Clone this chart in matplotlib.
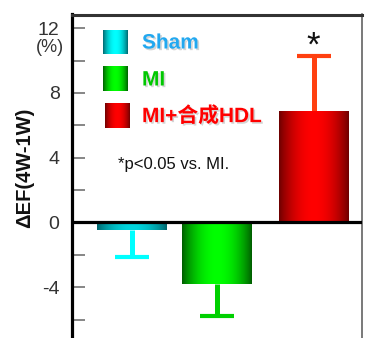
import numpy as np
import matplotlib
matplotlib.use("Agg")
import matplotlib.pyplot as plt
import matplotlib.patheffects as pe
from matplotlib.colors import to_rgb

plt.rcParams['font.family'] = ['Liberation Sans', 'Noto Sans CJK SC', 'DejaVu Sans']

# ---- data ----
groups = ['Sham', 'MI', 'MI+合成HDL']
values = [-0.46, -3.8, 6.88]
errors = [1.7, 2.0, 3.37]
yticks_major = [-4, 0, 4, 8, 12]
yticks_minor = [-6, -2, 2, 6, 10]
ylabel = 'ΔEF(4W-1W)'
note = '*p<0.05 vs. MI.'

# ---- style ----
positions = [1.0, 2.0, 3.14]
bar_width = 0.82
cap_half = 0.2
edge_cols = ['#00636b', '#005a00', '#6a0000']
center_cols = ['#00d4dc', '#00ff00', '#ff0000']
err_cols = ['#00ffff', '#00d000', '#ff4010']
text_cols = ['#22a8f0', '#00c800', '#ff0000']

W, H = 366, 338
fig = plt.figure(figsize=(W / 100, H / 100), dpi=100)
ax_l, ax_r, ax_t, ax_b = 72, 362, 14.5, 338
ax = fig.add_axes([ax_l / W, 1 - ax_b / H, (ax_r - ax_l) / W, (ax_b - ax_t) / H])

ylim = (-7.13, 12.84)
xlim = (0.294, 3.706)


def grad_img(c_edge, c_center, n=200):
    x = np.linspace(0, 1, n)
    t = np.sin(np.pi * x) ** 0.8
    e = np.array(to_rgb(c_edge))
    c = np.array(to_rgb(c_center))
    return (e[None, :] * (1 - t[:, None]) + c[None, :] * t[:, None])[None, :, :]


for i, (p, v, e) in enumerate(zip(positions, values, errors)):
    end = v - e if v < 0 else v + e
    ax.vlines(p, v, end, color=err_cols[i], lw=3.6, zorder=2)
    ax.hlines(end, p - cap_half, p + cap_half, color=err_cols[i], lw=3.0, zorder=2)
    bars = ax.bar([p], [v], width=bar_width, color='none', edgecolor='none', zorder=3)
    rect = bars[0]
    x0 = p - bar_width / 2
    im = ax.imshow(grad_img(edge_cols[i], center_cols[i]), aspect='auto',
                   extent=[x0, x0 + bar_width, min(0, v), max(0, v)], zorder=3,
                   interpolation='bilinear')
    im.set_clip_path(rect)

ax.set_xlim(*xlim)
ax.set_ylim(*ylim)

# legend squares / labels (in pixel -> data conversion)
def px2data(px, py):
    xd = xlim[0] + (px - ax_l) / (ax_r - ax_l) * (xlim[1] - xlim[0])
    yd = ylim[1] - (py - ax_t) / (ax_b - ax_t) * (ylim[1] - ylim[0])
    return xd, yd

leg_sq = [(103, 30, 25, 24), (103, 67, 25, 24), (105, 103, 25, 25)]
leg_txt_y = [43, 80, 116]
for i, (sx, sy, sw, sh) in enumerate(leg_sq):
    x0, y1 = px2data(sx, sy)
    x1, y0 = px2data(sx + sw, sy + sh)
    ax.imshow(grad_img(edge_cols[i], center_cols[i] if i else '#00ffff'), aspect='auto',
              extent=[x0, x1, y0, y1], zorder=4, interpolation='bilinear')
    tx, ty = px2data(142, leg_txt_y[i])
    ax.text(tx, ty, groups[i], color=text_cols[i], fontsize=15, fontweight='bold',
            va='center', ha='left', zorder=5,
            path_effects=[pe.withSimplePatchShadow(offset=(1.2, -1.2),
                                                   shadow_rgbFace='#888888', alpha=0.35)])

nx, ny = px2data(118, 165)
ax.text(nx, ny, note, fontsize=12, va='center', ha='left', color='#111111')

sx_, sy_ = px2data(313, 46)
ax.text(sx_, sy_, '*', fontsize=25, ha='center', va='center', color='#111111')

ax.set_ylim(*ylim)
ax.set_xlim(*xlim)

# axes styling
ax.axhline(0, color='black', lw=2.3, zorder=6)
ax.spines['bottom'].set_visible(False)
ax.spines['left'].set_linewidth(2.3)
ax.spines['left'].set_color('black')
ax.spines['top'].set_linewidth(2.2)
ax.spines['top'].set_color('#333333')
ax.spines['right'].set_linewidth(1.1)
ax.spines['right'].set_color('#555555')
ax.set_xticks([])
ax.set_yticks(yticks_major)
ax.set_yticks(yticks_minor, minor=True)
ax.set_yticklabels([str(t) for t in yticks_major])
ax.tick_params(axis='y', which='both', direction='in', length=9.5, width=1.1,
               color='#666666', pad=9, labelsize=14, labelcolor='#333333')

fig.text(50 / W, 1 - 48 / H, '(%)', fontsize=13, ha='center', va='center', color='#333333')
fig.text(25 / W, 1 - 168 / H, ylabel, fontsize=14.5, fontweight='bold', rotation=90,
         ha='center', va='center', color='#111111')

fig.savefig('out.png', dpi=100)
